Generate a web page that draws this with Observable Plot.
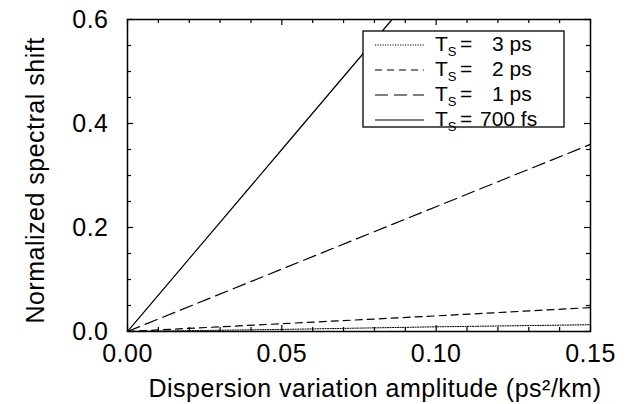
<!DOCTYPE html>
<html><head><meta charset="utf-8">
<script src="https://cdn.jsdelivr.net/npm/d3@7"></script>
<script src="https://cdn.jsdelivr.net/npm/@observablehq/plot@0.6"></script>
<style>
body{margin:0;background:#fff}
svg{font-family:"Liberation Sans",Arial,Helvetica,sans-serif}
</style>
</head><body><div id="chart"></div>
<script>
// ---- data ----
const xVals = [0, 0.05, 0.10, 0.15];
const ts3ps = [0, 0.004, 0.009, 0.013];
const ts2ps = [0, 0.015, 0.030, 0.046];
const ts1ps = [0, 0.12, 0.24, 0.36];
const ts700fsX = [0, 0.05, 0.0857];
const ts700fs = [0, 0.35, 0.6];
const seriesNames = ["3 ps", "2 ps", "1 ps", "700 fs"];
const xMajor = [0, 0.05, 0.10, 0.15];
const xMinor = [0.01,0.02,0.03,0.04,0.06,0.07,0.08,0.09,0.11,0.12,0.13,0.14];
const yMajor = [0, 0.2, 0.4, 0.6];
const yMinor = [0.05,0.1,0.15,0.25,0.3,0.35,0.45,0.5,0.55];
const xLabel = "Dispersion variation amplitude (ps²/km)";
const yLabel = "Normalized spectral shift";

// ---- build ----
const toRows = (xs, ys) => xs.map((x, i) => ({x, y: ys[i]}));
const r3 = toRows(xVals, ts3ps);
const r2 = toRows(xVals, ts2ps);
const r1 = toRows(xVals, ts1ps);
const r7 = toRows(ts700fsX, ts700fs);

const W = 627, H = 404, mL = 127, mR = 37, mT = 19, mB = 73;
const innerW = W - mL - mR, innerH = H - mT - mB;
const dashes = {"3 ps": "1.2,1.3", "2 ps": "7,5", "1 ps": "13,6", "700 fs": null};
const FS = 25;

const plot = Plot.plot({
  width: W, height: H,
  marginLeft: mL, marginRight: mR, marginTop: mT, marginBottom: mB,
  style: {fontFamily: "Liberation Sans, Arial, Helvetica, sans-serif", fontSize: FS + "px", letterSpacing: "0.5px", background: "white", color: "black", overflow: "visible"},
  x: {domain: [0, 0.15]},
  y: {domain: [0, 0.6]},
  marks: [
    Plot.axisX({ticks: xMajor, tickSize: 0, tickPadding: 13, tickFormat: d3.format(".2f"), label: null, fontSize: FS}),
    Plot.axisY({ticks: yMajor, tickSize: 0, tickPadding: 19, tickFormat: d3.format(".1f"), label: null, fontSize: FS}),
    // inward ticks, bottom & top
    Plot.tickX(xMajor, {x: d => d, insetTop: innerH - 6, stroke: "black", strokeWidth: 1.2}),
    Plot.tickX(xMinor, {x: d => d, insetTop: innerH - 4, stroke: "black", strokeWidth: 1.2}),
    Plot.tickX(xMajor, {x: d => d, insetBottom: innerH - 6, stroke: "black", strokeWidth: 1.2}),
    Plot.tickX(xMinor, {x: d => d, insetBottom: innerH - 4, stroke: "black", strokeWidth: 1.2}),
    // inward ticks, left & right
    Plot.tickY(yMajor, {y: d => d, insetRight: innerW - 6, stroke: "black", strokeWidth: 1.2}),
    Plot.tickY(yMinor, {y: d => d, insetRight: innerW - 4, stroke: "black", strokeWidth: 1.2}),
    Plot.tickY(yMajor, {y: d => d, insetLeft: innerW - 6, stroke: "black", strokeWidth: 1.2}),
    Plot.tickY(yMinor, {y: d => d, insetLeft: innerW - 4, stroke: "black", strokeWidth: 1.2}),
    // series
    Plot.line(r3, {x: "x", y: "y", stroke: "black", strokeWidth: 1, strokeDasharray: dashes["3 ps"], clip: true}),
    Plot.line(r2, {x: "x", y: "y", stroke: "black", strokeWidth: 1.2, strokeDasharray: dashes["2 ps"], clip: true}),
    Plot.line(r1, {x: "x", y: "y", stroke: "black", strokeWidth: 1.2, strokeDasharray: dashes["1 ps"], clip: true}),
    Plot.line(r7, {x: "x", y: "y", stroke: "black", strokeWidth: 1.2, clip: true}),
    Plot.frame({stroke: "black", strokeWidth: 1.5}),
    // axis titles
    Plot.text([xLabel], {frameAnchor: "bottom", dx: 16, dy: 57, lineAnchor: "middle", textAnchor: "middle", fontSize: FS, fill: "black"}),
    Plot.text([yLabel], {frameAnchor: "left", rotate: -90, dx: -92, dy: 5, lineAnchor: "middle", textAnchor: "middle", fontSize: FS, fill: "black"})
  ]
});

// ---- legend ----
const svg = d3.select(plot);
const lg = svg.append("g").attr("font-size", 21).attr("fill", "black")
  .attr("text-anchor", "start").style("letter-spacing", "0px");
lg.append("rect").attr("x", 363).attr("y", 31).attr("width", 201).attr("height", 96)
  .attr("fill", "white").attr("stroke", "black").attr("stroke-width", 1.3);
seriesNames.forEach((name, i) => {
  const base = 51 + i * 25;
  const cy = base - 6;
  const ln = lg.append("line").attr("x1", 375).attr("x2", 424).attr("y1", cy).attr("y2", cy)
    .attr("stroke", "black").attr("stroke-width", name === "3 ps" ? 1 : 1.2);
  if (dashes[name]) ln.attr("stroke-dasharray", dashes[name]);
  const t = lg.append("text").attr("x", 435).attr("y", base);
  t.append("tspan").text("T");
  t.append("tspan").attr("font-size", 13).attr("dy", 5).text("S");
  lg.append("text").attr("x", 460).attr("y", base).text("=");
  lg.append("text").attr("x", name === "700 fs" ? 480 : 492).attr("y", base).text(name);
});

document.getElementById("chart").appendChild(plot);
</script>
</body></html>
